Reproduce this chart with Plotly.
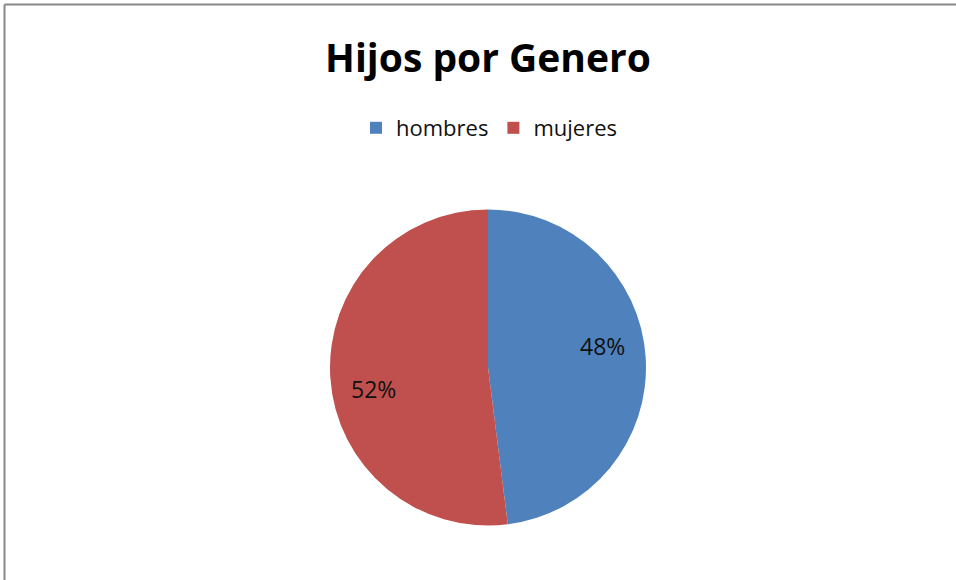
import math
import plotly.graph_objects as go

labels = ["hombres", "mujeres"]
values = [48, 52]
colors = ["#4F81BD", "#C0504D"]
title_text = "Hijos por Genero"

W, H = 956, 580
cx, cy, r = 488, 367.5, 158
FONT = "Open Sans"

fig = go.Figure(go.Pie(
    labels=labels,
    values=values,
    marker=dict(colors=colors, line=dict(width=0)),
    sort=False,
    direction="clockwise",
    rotation=0,
    textinfo="none",
    domain=dict(x=[(cx - r) / W, (cx + r) / W], y=[(H - cy - r) / H, (H - cy + r) / H]),
    hoverinfo="label+percent",
))

# percent labels placed from the data (slice mid-angle)
total = sum(values)
annotations = []
cum = 0.0
for v in values:
    frac = v / total
    mid = (cum + frac / 2) * 2 * math.pi - math.radians(7)
    cum += frac
    rr = 0.74 * r
    px = cx + rr * math.sin(mid)
    py = cy - rr * math.cos(mid)
    annotations.append(dict(
        x=px / W, y=1 - py / H, xref="paper", yref="paper",
        text=f"{round(frac * 100)}%", showarrow=False,
        xanchor="center", yanchor="middle",
        font=dict(family=FONT, size=23, color="#111111"),
    ))

fig.update_layout(
    width=W, height=H,
    margin=dict(l=0, r=0, t=0, b=0),
    paper_bgcolor="white",
    plot_bgcolor="white",
    title=dict(text="<b>" + title_text + "</b>", x=488 / W, xanchor="center",
               y=1 - 58 / H, yanchor="middle", yref="paper",
               font=dict(family=FONT, size=39, color="#000000")),
    legend=dict(orientation="h", x=489 / W, xanchor="center", y=1 - 128 / H, yanchor="middle",
                font=dict(family=FONT, size=22, color="#111111"),
                itemwidth=30, traceorder="normal"),
    showlegend=True,
    annotations=annotations,
    shapes=[
        dict(type="line", xref="paper", yref="paper", x0=4.5 / W, x1=1.02, y0=1 - 4.5 / H, y1=1 - 4.5 / H,
             line=dict(color="#888888", width=2)),
        dict(type="line", xref="paper", yref="paper", x0=4.5 / W, x1=4.5 / W, y0=-0.02, y1=1 - 4.5 / H,
             line=dict(color="#888888", width=2)),
    ],
)

fig.write_html("out.html",
               config={"displayModeBar": False},
               post_script="document.body.style.margin='0';document.body.style.overflow='hidden';")
